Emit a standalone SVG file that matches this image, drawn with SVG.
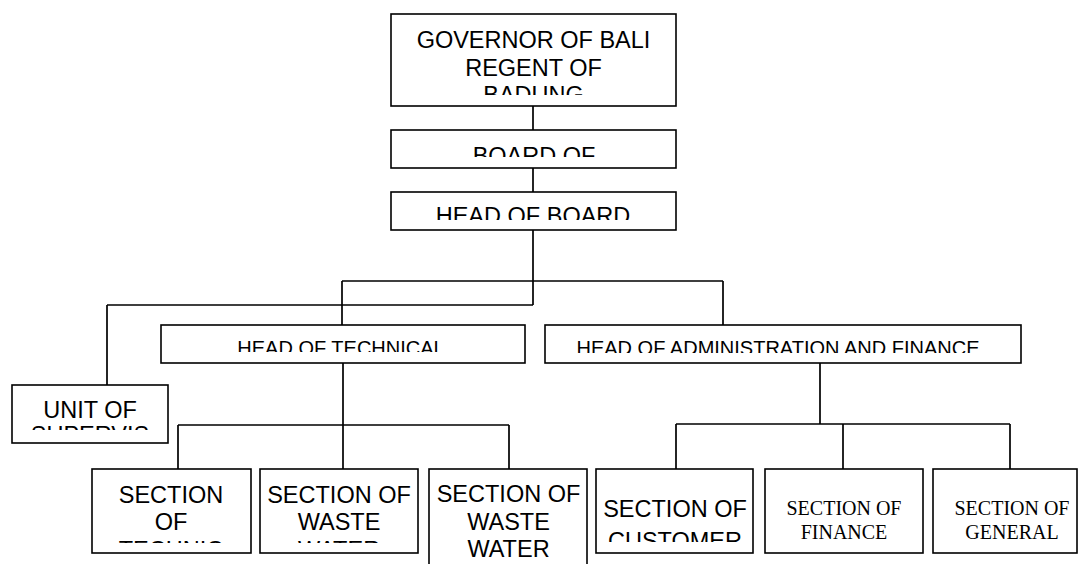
<svg xmlns="http://www.w3.org/2000/svg" width="1078" height="564" viewBox="0 0 1078 564">
<style>
.box{fill:#fff;stroke:#000;stroke-width:1.6}
.ln{fill:none;stroke:#000;stroke-width:1.7}
.t{font-family:"Liberation Sans",Arial,sans-serif;font-size:23.5px;fill:#000;text-anchor:middle}
.h{font-family:"Liberation Sans",Arial,sans-serif;font-size:20px;fill:#000;text-anchor:middle}
.s{font-family:"Liberation Serif","Times New Roman",serif;font-size:20px;fill:#000;text-anchor:middle}
</style>
<defs>
<clipPath id="cGov"><rect x="391" y="14" width="285" height="81"/></clipPath>
<clipPath id="cBoard"><rect x="391" y="130" width="285" height="27"/></clipPath>
<clipPath id="cHead"><rect x="391" y="192" width="285" height="28"/></clipPath>
<clipPath id="cTech"><rect x="161" y="325" width="364" height="27"/></clipPath>
<clipPath id="cAdm"><rect x="545" y="325" width="476" height="28"/></clipPath>
<clipPath id="cUnit"><rect x="12" y="385" width="156" height="45"/></clipPath>
<clipPath id="cS1"><rect x="92" y="469" width="159" height="74"/></clipPath>
<clipPath id="cS2"><rect x="260" y="469" width="158" height="74"/></clipPath>
<clipPath id="cCus"><rect x="596" y="469" width="157" height="73"/></clipPath>
</defs>
<rect width="1078" height="564" fill="#fff"/>
<g id="connectors">
<path class="ln" d="M533 106V130M533 168V192M533 230V305M107 305H533M107 305V385"/>
<path class="ln" d="M342 281H723M342 281V325M723 281V325"/>
<path class="ln" d="M343 363V469M178 425H509M178 425V469M509 425V469"/>
<path class="ln" d="M820 363V424M676 424H1010M676 424V469M843 424V469M1010 424V469"/>
</g>
<g id="governor">
<rect class="box" x="391" y="14" width="285" height="92"/>
<g clip-path="url(#cGov)">
<text class="t" x="533.5" y="48">GOVERNOR OF BALI</text>
<text class="t" x="533.5" y="76">REGENT OF</text>
<text class="t" x="533.5" y="103">BADUNG</text>
</g>
</g>
<g id="board">
<rect class="box" x="391" y="130" width="285" height="38"/>
<text class="t" x="534" y="164" clip-path="url(#cBoard)">BOARD OF</text>
</g>
<g id="headboard">
<rect class="box" x="391" y="192" width="285" height="38"/>
<text class="t" x="533" y="224" clip-path="url(#cHead)">HEAD OF BOARD</text>
</g>
<g id="unit">
<rect class="box" x="12" y="385" width="156" height="58"/>
<g clip-path="url(#cUnit)">
<text class="t" x="90" y="417.5">UNIT OF</text>
<text class="t" x="90" y="443">SUPERVIS</text>
</g>
</g>
<g id="headtech">
<rect class="box" x="161" y="325" width="364" height="38"/>
<text class="h" x="341" y="354.5" clip-path="url(#cTech)">HEAD OF TECHNICAL</text>
</g>
<g id="headadmin">
<rect class="box" x="545" y="325" width="476" height="38"/>
<text class="h" x="778" y="355" clip-path="url(#cAdm)">HEAD OF ADMINISTRATION AND FINANCE</text>
</g>
<g id="sec-technic">
<rect class="box" x="92" y="469" width="159" height="84"/>
<g clip-path="url(#cS1)">
<text class="t" x="171" y="503">SECTION</text>
<text class="t" x="171" y="530">OF</text>
<text class="t" x="171" y="557.5">TECHNIC</text>
</g>
</g>
<g id="sec-waste1">
<rect class="box" x="260" y="469" width="158" height="84"/>
<g clip-path="url(#cS2)">
<text class="t" x="339" y="503">SECTION OF</text>
<text class="t" x="339" y="530">WASTE</text>
<text class="t" x="339" y="557.5">WATER</text>
</g>
</g>
<g id="sec-waste2">
<rect class="box" x="429" y="469" width="158" height="110"/>
<text class="t" x="508.5" y="502">SECTION OF</text>
<text class="t" x="508.5" y="530">WASTE</text>
<text class="t" x="508.5" y="557">WATER</text>
</g>
<g id="sec-customer">
<rect class="box" x="596" y="469" width="157" height="84"/>
<g clip-path="url(#cCus)">
<text class="t" x="675" y="517">SECTION OF</text>
<text class="t" x="675" y="548.5">CUSTOMER</text>
</g>
</g>
<g id="sec-finance">
<rect class="box" x="765" y="469" width="158" height="84"/>
<text class="s" x="844" y="515">SECTION OF</text>
<text class="s" x="844" y="539">FINANCE</text>
</g>
<g id="sec-general">
<rect class="box" x="933" y="469" width="144" height="84"/>
<text class="s" x="1012" y="515">SECTION OF</text>
<text class="s" x="1012" y="539">GENERAL</text>
</g>
</svg>
